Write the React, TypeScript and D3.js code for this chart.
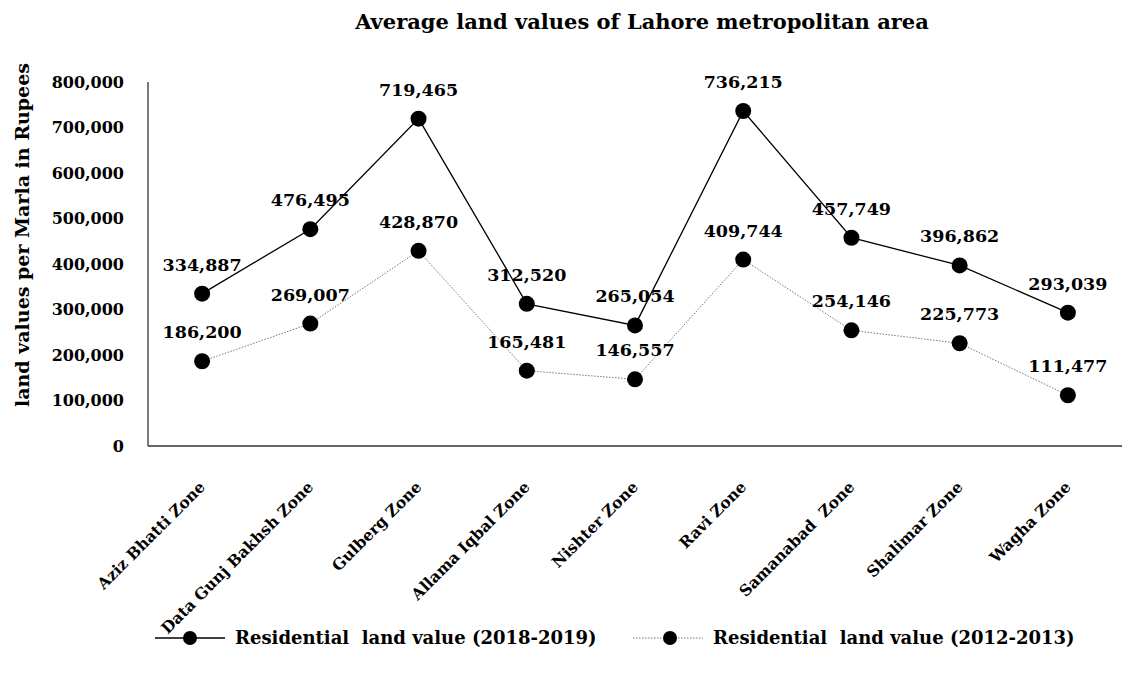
import * as d3 from "d3";

const zones = [
  "Aziz Bhatti Zone",
  "Data Gunj Bakhsh Zone",
  "Gulberg Zone",
  "Allama Iqbal Zone",
  "Nishter Zone",
  "Ravi Zone",
  "Samanabad  Zone",
  "Shalimar Zone",
  "Wagha Zone",
];
const value2018 = [334887, 476495, 719465, 312520, 265054, 736215, 457749, 396862, 293039];
const value2012 = [186200, 269007, 428870, 165481, 146557, 409744, 254146, 225773, 111477];
const yTicks = [0, 100000, 200000, 300000, 400000, 500000, 600000, 700000, 800000];
const seriesNames = ["Residential  land value (2018-2019)", "Residential  land value (2012-2013)"];

const W = 1131;
const H = 682;
const margin = { top: 82, right: 9, bottom: 236, left: 148 };
const font = "'DejaVu Serif', serif";

export default function App() {
  const x = d3.scaleBand().domain(zones).range([margin.left, W - margin.right]);
  const y = d3.scaleLinear().domain([0, 800000]).range([H - margin.bottom, margin.top]);
  const fmt = d3.format(",");
  const cx = (d: string) => (x(d) ?? 0) + x.bandwidth() / 2;

  const series = [
    { name: seriesNames[0], values: value2018, stroke: "#000", width: 1.3, dash: "none" },
    { name: seriesNames[1], values: value2012, stroke: "#777", width: 1, dash: "1.5 1.5" },
  ];
  const line = d3
    .line<number>()
    .x((_, i) => cx(zones[i]))
    .y((v) => y(v));

  const legendX = [155, 633];

  return (
    <svg width={W} height={H} style={{ display: "block", position: "absolute", left: 0, top: 0 }} fontFamily={font} fontWeight="bold">
      <text x={642} y={29} textAnchor="middle" fontSize={21}>
        Average land values of Lahore metropolitan area
      </text>

      <text transform={`translate(29, ${235}) rotate(-90)`} textAnchor="middle" fontSize={19}>
        land values per Marla in Rupees
      </text>

      {/* axes frame */}
      <line x1={margin.left} x2={margin.left} y1={margin.top} y2={y(0)} stroke="#333" strokeWidth={1.3} />
      <line x1={margin.left} x2={W - margin.right} y1={y(0)} y2={y(0)} stroke="#333" strokeWidth={1.3} />

      {yTicks.map((t) => (
        <text key={t} x={124} y={y(t)} dy="0.35em" textAnchor="end" fontSize={16}>
          {fmt(t)}
        </text>
      ))}

      {zones.map((z) => (
        <text
          key={z}
          transform={`translate(${cx(z) + 4}, ${y(0) + 42}) rotate(-45)`}
          textAnchor="end"
          fontSize={15.6}
          xmlSpace="preserve"
        >
          {z}
        </text>
      ))}

      {series.map((s) => (
        <g key={s.name}>
          <path d={line(s.values) ?? ""} fill="none" stroke={s.stroke} strokeWidth={s.width} strokeDasharray={s.dash} />
          {s.values.map((v, i) => (
            <circle key={i} cx={cx(zones[i])} cy={y(v)} r={8} fill="#000" />
          ))}
          {s.values.map((v, i) => (
            <text key={"l" + i} x={cx(zones[i])} y={y(v) - 23} textAnchor="middle" fontSize={17.5}>
              {fmt(v)}
            </text>
          ))}
        </g>
      ))}

      {series.map((s, k) => (
        <g key={"lg" + k} transform={`translate(${legendX[k]}, 638)`}>
          <line x1={0} x2={70} y1={0} y2={0} stroke={s.stroke} strokeWidth={s.width} strokeDasharray={s.dash} />
          <circle cx={35 + (k === 1 ? 2 : 0)} cy={0} r={7} fill="#000" />
          <text x={80} y={0} dy="0.35em" fontSize={18} xmlSpace="preserve">
            {s.name}
          </text>
        </g>
      ))}
    </svg>
  );
}
